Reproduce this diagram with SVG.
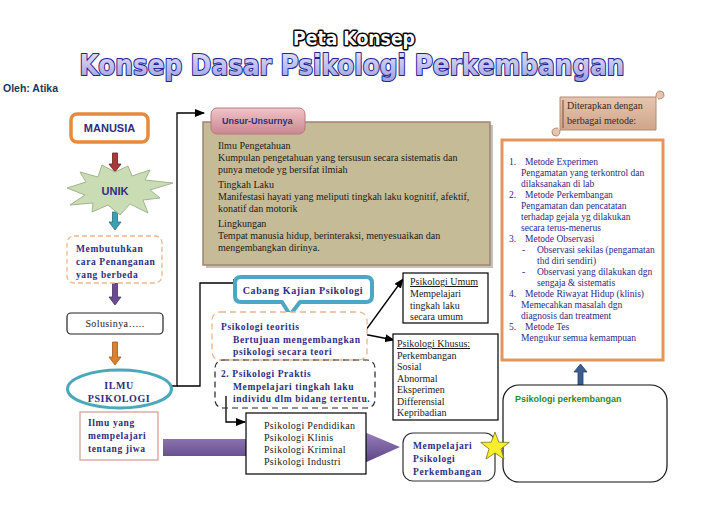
<svg xmlns="http://www.w3.org/2000/svg" width="728" height="515" viewBox="0 0 728 515">
<defs>
<linearGradient id="gTitle" x1="0" y1="0" x2="0" y2="1"><stop offset="0" stop-color="#e4e4fb"/><stop offset="1" stop-color="#9d9de0"/></linearGradient>
<linearGradient id="gTab" x1="0" y1="0" x2="0" y2="1"><stop offset="0" stop-color="#f0c4c8"/><stop offset="1" stop-color="#c98790"/></linearGradient>
<linearGradient id="gPurple" x1="0" y1="0" x2="0" y2="1"><stop offset="0" stop-color="#9a82c0"/><stop offset="1" stop-color="#5a4282"/></linearGradient>
<linearGradient id="gScroll" x1="0" y1="0" x2="0" y2="1"><stop offset="0" stop-color="#e6c6ae"/><stop offset="1" stop-color="#cfa58a"/></linearGradient>
<marker id="ah" markerWidth="10" markerHeight="8" refX="9" refY="4" orient="auto" markerUnits="userSpaceOnUse"><path d="M0,0 L10,4 L0,8 z" fill="#000"/></marker>
<style>
.nv{fill:#2e2e80}
.sb{font-family:"Liberation Sans",Arial,sans-serif;font-weight:bold}
.sf{font-family:"Liberation Serif","Times New Roman",serif}
.sfb{font-family:"Liberation Serif","Times New Roman",serif;font-weight:bold;letter-spacing:0.6px}
.blk{fill:#1a1a1a}
.con{fill:none;stroke:#000;stroke-width:1.3}
.box{fill:#fff;stroke:#000;stroke-width:1.2}
</style>
</defs>
<rect width="728" height="515" fill="#fff"/>

<g id="title">
<text x="354" y="45" text-anchor="middle" font-family="DejaVu Sans Condensed,'DejaVu Sans',sans-serif" font-weight="bold" font-size="20" textLength="122" lengthAdjust="spacingAndGlyphs" fill="#fff" stroke="#000" stroke-width="3" paint-order="stroke" stroke-linejoin="round">Peta Konsep</text>
<text x="352" y="75" text-anchor="middle" font-family="'DejaVu Sans',sans-serif" font-weight="bold" font-size="28" textLength="545" lengthAdjust="spacingAndGlyphs" fill="url(#gTitle)" stroke="#23238c" stroke-width="2.2" paint-order="stroke" stroke-linejoin="round">Konsep Dasar Psikologi Perkembangan</text>
<text x="3" y="92" class="sb" font-size="10.5" fill="#1b3560">Oleh: Atika</text>
</g>

<g id="connectors">
<polyline class="con" points="163,386 177,386 177,113 204,113" marker-end="url(#ah)"/>
<polyline class="con" points="177,386 200,386 200,283 242,283" marker-end="url(#ah)"/>
<polyline class="con" points="226,396 226,422 245,422" marker-end="url(#ah)"/>
<line class="con" x1="363" y1="334" x2="403" y2="279" marker-end="url(#ah)" stroke-width="1"/>
<line class="con" x1="363" y1="334" x2="394" y2="340" marker-end="url(#ah)" stroke-width="1"/>
<polygon points="112.5,153 117.5,153 117.5,164 121,164 115,172 109,164 112.5,164" fill="#a8383a" stroke="#6a2020" stroke-width="0.8"/>
<polygon points="112.5,212 117.5,212 117.5,222 121,222 115,230 109,222 112.5,222" fill="#3aa0b4" stroke="#2a6c7a" stroke-width="0.8"/>
<polygon points="112.5,283 117.5,283 117.5,297 121,297 115,305 109,297 112.5,297" fill="#6a4c8e" stroke="#46306a" stroke-width="0.8"/>
<polygon points="112.5,342 117.5,342 117.5,357 121,357 115,365 109,357 112.5,357" fill="#d9822b" stroke="#a35a18" stroke-width="0.8"/>
<polygon points="578,386 583,386 583,372 587,372 580.5,364 574,372 578,372" fill="#3a5e90" stroke="#25406a" stroke-width="0.8"/>
<polygon points="163,439 362,439 362,431 400,447 362,464 362,456 163,456" fill="url(#gPurple)"/>
</g>

<g id="manusia">
<rect x="71" y="114" width="77" height="28" rx="6" fill="#fff" stroke="#e88a3c" stroke-width="3.5"/>
<text x="109.5" y="132" text-anchor="middle" class="sb nv" font-size="11">MANUSIA</text>
</g>

<g id="unik">
<polygon points="115,172 128,166 132,176 150,170 145,180 173,183 150,190 160,198 143,200 148,213 130,204 120,215 108,205 92,212 93,203 70,205 85,195 67,188 86,182 80,172 98,177 102,165" fill="#cadcb4" stroke="#a0b48e" stroke-width="1"/>
<text x="115" y="195" text-anchor="middle" class="sb nv" font-size="11">UNIK</text>
</g>

<g id="membutuhkan">
<rect x="67" y="236" width="95" height="47" rx="7" fill="#fff" stroke="#f0b48a" stroke-width="1.3" stroke-dasharray="5,3"/>
<text class="sfb nv" font-size="9.5"><tspan x="76" y="252">Membutuhkan</tspan><tspan x="76" y="265">cara Penanganan</tspan><tspan x="76" y="278">yang berbeda</tspan></text>
</g>

<g id="solusinya">
<rect x="67" y="313" width="96" height="21" rx="4" fill="#fff" stroke="#222" stroke-width="1.2"/>
<text x="115" y="327" text-anchor="middle" class="sf blk" font-size="10" letter-spacing="0.4">Solusinya…..</text>
</g>

<g id="ilmu-psikologi">
<ellipse cx="119.5" cy="389" rx="52" ry="19" fill="#fff" stroke="#4aa8b8" stroke-width="3"/>
<text text-anchor="middle" class="sfb nv" font-size="10"><tspan x="119" y="389">ILMU</tspan><tspan x="119" y="402">PSIKOLOGI</tspan></text>
</g>

<g id="ilmu-yang">
<rect x="80" y="412" width="78" height="48" fill="#fff" stroke="#d4a098" stroke-width="1.3"/>
<text class="sfb nv" font-size="9.5"><tspan x="88" y="426">Ilmu yang</tspan><tspan x="88" y="439">mempelajari</tspan><tspan x="88" y="452">tentang jiwa</tspan></text>
</g>

<g id="unsur">
<rect x="206" y="125" width="287" height="143" fill="#8c8272" opacity="0.5"/>
<rect x="203" y="122" width="287" height="143" fill="#c6bb97" stroke="#a08470" stroke-width="1.5"/>
<rect x="211" y="108" width="94" height="26" rx="6" fill="url(#gTab)" stroke="#b87a82" stroke-width="1"/>
<text x="222" y="124" class="sb nv" font-size="9">Unsur-Unsurnya</text>
<text class="sf blk" font-size="10"><tspan x="218" y="149">Ilmu Pengetahuan</tspan><tspan x="218" y="161">Kumpulan pengetahuan yang tersusun secara sistematis dan</tspan><tspan x="218" y="173">punya metode yg bersifat ilmiah</tspan><tspan x="218" y="188">Tingkah Laku</tspan><tspan x="218" y="200">Manifestasi hayati yang meliputi tingkah laku kognitif, afektif,</tspan><tspan x="218" y="212">konatif dan motorik</tspan><tspan x="218" y="227">Lingkungan</tspan><tspan x="218" y="239">Tempat manusia hidup, berinteraksi, menyesuaikan dan</tspan><tspan x="218" y="251">mengembangkan dirinya.</tspan></text>
</g>

<g id="cabang">
<path d="M241,277 H366 Q372,277 372,283 V296 Q372,302 366,302 H300 L290,315 L282,302 H241 Q235,302 235,296 V283 Q235,277 241,277 Z" fill="#fff" stroke="#4aa8c4" stroke-width="4" stroke-linejoin="round"/>
<text x="303" y="294" text-anchor="middle" class="sfb nv" font-size="10" letter-spacing="0.3">Cabang Kajian Psikologi</text>
</g>

<g id="teoritis">
<rect x="212" y="312" width="155" height="48" rx="8" fill="#fff" stroke="#efb48a" stroke-width="1.3" stroke-dasharray="6,4"/>
<text class="sfb nv" font-size="9.5"><tspan x="221" y="330">Psikologi teoritis</tspan><tspan x="233" y="343">Bertujuan mengembangkan</tspan><tspan x="233" y="355">psikologi secara teori</tspan></text>
</g>

<g id="praktis">
<rect x="215" y="360" width="160" height="48" rx="8" fill="#fff" fill-opacity="0" stroke="#222" stroke-width="1.2" stroke-dasharray="6,4"/>
<text class="sfb nv" font-size="9.5"><tspan x="221" y="377">2. Psikologi Praktis</tspan><tspan x="233" y="390">Mempelajari tingkah laku</tspan><tspan x="233" y="402">individu dlm bidang tertentu.</tspan></text>
</g>

<g id="pendidikan">
<rect class="box" x="246" y="413" width="120" height="61"/>
<text class="sf blk" font-size="10" letter-spacing="0.3"><tspan x="264" y="429">Psikologi Pendidikan</tspan><tspan x="264" y="441">Psikologi Klinis</tspan><tspan x="264" y="453">Psikologi Kriminal</tspan><tspan x="264" y="465">Psikologi Industri</tspan></text>
</g>

<g id="umum">
<rect class="box" x="403" y="273" width="85" height="50"/>
<text class="sf blk" font-size="10"><tspan x="410" y="285" text-decoration="underline">Psikologi Umum</tspan><tspan x="410" y="297">Mempelajari</tspan><tspan x="410" y="309">tingkah laku</tspan><tspan x="410" y="320">secara umum</tspan></text>
</g>

<g id="khusus">
<rect class="box" x="393" y="334" width="105" height="86"/>
<text class="sf blk" font-size="10"><tspan x="397" y="347" text-decoration="underline">Psikologi Khusus:</tspan><tspan x="397" y="358.5">Perkembangan</tspan><tspan x="397" y="370">Sosial</tspan><tspan x="397" y="381.5">Abnormal</tspan><tspan x="397" y="393">Eksperimen</tspan><tspan x="397" y="404.5">Differensial</tspan><tspan x="397" y="416">Kepribadian</tspan></text>
</g>

<g id="mempelajari">
<rect x="403" y="433" width="92" height="48" rx="10" fill="#fff" stroke="#333" stroke-width="1.2"/>
<text class="sfb nv" font-size="9.5"><tspan x="413" y="449">Mempelajari</tspan><tspan x="413" y="462">Psikologi</tspan><tspan x="413" y="475">Perkembangan</tspan></text>
</g>

<g id="perkembangan">
<rect x="503" y="385" width="164" height="97" rx="16" fill="#fff" stroke="#111" stroke-width="1.2"/>
<text x="515" y="402" class="sb" font-size="9" fill="#2a8a2a">Psikologi perkembangan</text>
</g>

<g id="star">
<polygon points="495,432 498.8,442.2 509.3,442.4 501,448.9 504,459 495,453 486,459 489,448.9 480.7,442.4 491.2,442.2" fill="#f6ee2a" stroke="#7a7418" stroke-width="0.8"/>
</g>

<g id="diterapkan">
<path d="M560,97 H656 V130 H560 Z" fill="url(#gScroll)" stroke="#b38a72" stroke-width="1"/>
<path d="M656,97 Q656,91 660,91 Q664,91 664,95 Q664,99 658,99" fill="#e6c6ae" stroke="#b38a72" stroke-width="1"/>
<path d="M560,130 Q560,136 556,136 Q552,136 552,132 Q552,128 558,128" fill="#e6c6ae" stroke="#b38a72" stroke-width="1"/>
<line x1="563" y1="100" x2="563" y2="128" stroke="#9a6e58" stroke-width="1.5"/>
<text class="sf" font-size="10" fill="#3a2828"><tspan x="567" y="109">Diterapkan dengan</tspan><tspan x="567" y="124">berbagai metode:</tspan></text>
</g>

<g id="metode">
<rect x="502" y="140" width="161" height="220" fill="#fff" stroke="#e4955c" stroke-width="3"/>
<text class="sf" font-size="9.5" fill="#2a2a80"><tspan x="509" y="165">1.</tspan><tspan x="525" y="165">Metode Experimen</tspan><tspan x="521" y="176">Pengamatan yang terkontrol dan</tspan><tspan x="521" y="187">dilaksanakan di lab</tspan><tspan x="509" y="198">2.</tspan><tspan x="525" y="198">Metode Perkembangan</tspan><tspan x="521" y="209">Pengamatan dan pencatatan</tspan><tspan x="521" y="220">terhadap gejala yg dilakukan</tspan><tspan x="521" y="231">secara terus-menerus</tspan><tspan x="509" y="242">3.</tspan><tspan x="525" y="242">Metode Observasi</tspan><tspan x="522" y="253">-</tspan><tspan x="537" y="253">Observasi sekilas (pengamatan</tspan><tspan x="537" y="264">thd diri sendiri)</tspan><tspan x="522" y="275">-</tspan><tspan x="537" y="275">Observasi yang dilakukan dgn</tspan><tspan x="537" y="286">sengaja &amp; sistematis</tspan><tspan x="509" y="297">4.</tspan><tspan x="525" y="297">Metode Riwayat Hidup (klinis)</tspan><tspan x="521" y="308">Memecahkan masalah dgn</tspan><tspan x="521" y="319">diagnosis dan treatment</tspan><tspan x="509" y="330">5.</tspan><tspan x="525" y="330">Metode Tes</tspan><tspan x="521" y="341">Mengukur semua kemampuan</tspan></text>
</g>
</svg>
